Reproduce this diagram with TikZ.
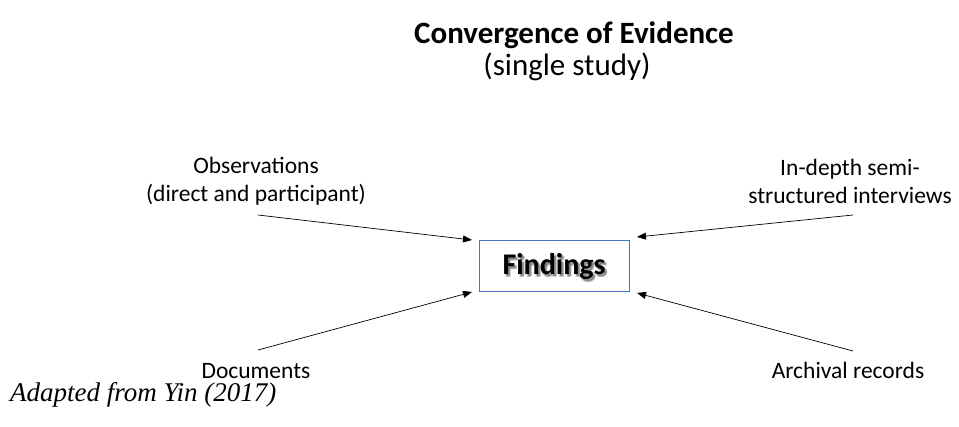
\documentclass[tikz,border=0pt]{standalone}
\usepackage{fontspec}
\setmainfont{Carlito}
\newfontfamily\serifit{Liberation Serif}
\usetikzlibrary{arrows.meta}
\begin{document}
\begin{tikzpicture}[x=1pt,y=-1pt,
  lbl/.style={align=center,font=\fontsize{23.5}{28}\selectfont,inner sep=0pt},
  conn/.style={-{Triangle[length=9pt,width=7pt]},line width=0.7pt}]
\useasboundingbox[fill=white] (0,0) rectangle (959,427);
\node[font=\fontsize{31}{36}\selectfont\bfseries,inner sep=0pt] (title) at (574,35) {Convergence of Evidence};
\node[font=\fontsize{31}{36}\selectfont,inner sep=0pt] (sub) at (567,67) {(single study)};
% soft shadow for findings text
\foreach \dx/\dy in {1.5/2,2/2.5,2.5/2,2/1.5,2.5/3,3/2.5,1/2.5,2.5/1}{
  \node[font=\fontsize{30}{34}\selectfont\bfseries,text=black,opacity=0.08,inner sep=0pt] at (554+\dx,267+\dy) {Findings};
}
\node[draw={rgb,255:red,68;green,114;blue,196},line width=1pt,minimum width=150pt,minimum height=51pt,inner sep=0pt] (find) at (554,266.5) {};
\node[font=\fontsize{30}{34}\selectfont\bfseries,inner sep=0pt] (findt) at (554,267) {Findings};
\node[lbl] (obs) at (256,181) {Observations\\(direct and participant)};
\node[lbl] (int) at (850,181) {In-depth semi-\\structured interviews};
\node[lbl] (doc) at (256,371) {Documents};
\node[lbl] (arc) at (848,370) {Archival records};
\coordinate (o1) at (258,215);
\coordinate (o2) at (472,240);
\coordinate (i1) at (853,215);
\coordinate (i2) at (637,237);
\coordinate (d1) at (258,350);
\coordinate (d2) at (472,292);
\coordinate (a1) at (853,351);
\coordinate (a2) at (637,293);
\draw[conn] (o1) -- (o2);
\draw[conn] (i1) -- (i2);
\draw[conn] (d1) -- (d2);
\draw[conn] (a1) -- (a2);
\node[font=\serifit\itshape\fontsize{27}{30}\selectfont,anchor=west,inner sep=0pt] (src) at (10,395) {Adapted from Yin (2017)};
\end{tikzpicture}
\end{document}
